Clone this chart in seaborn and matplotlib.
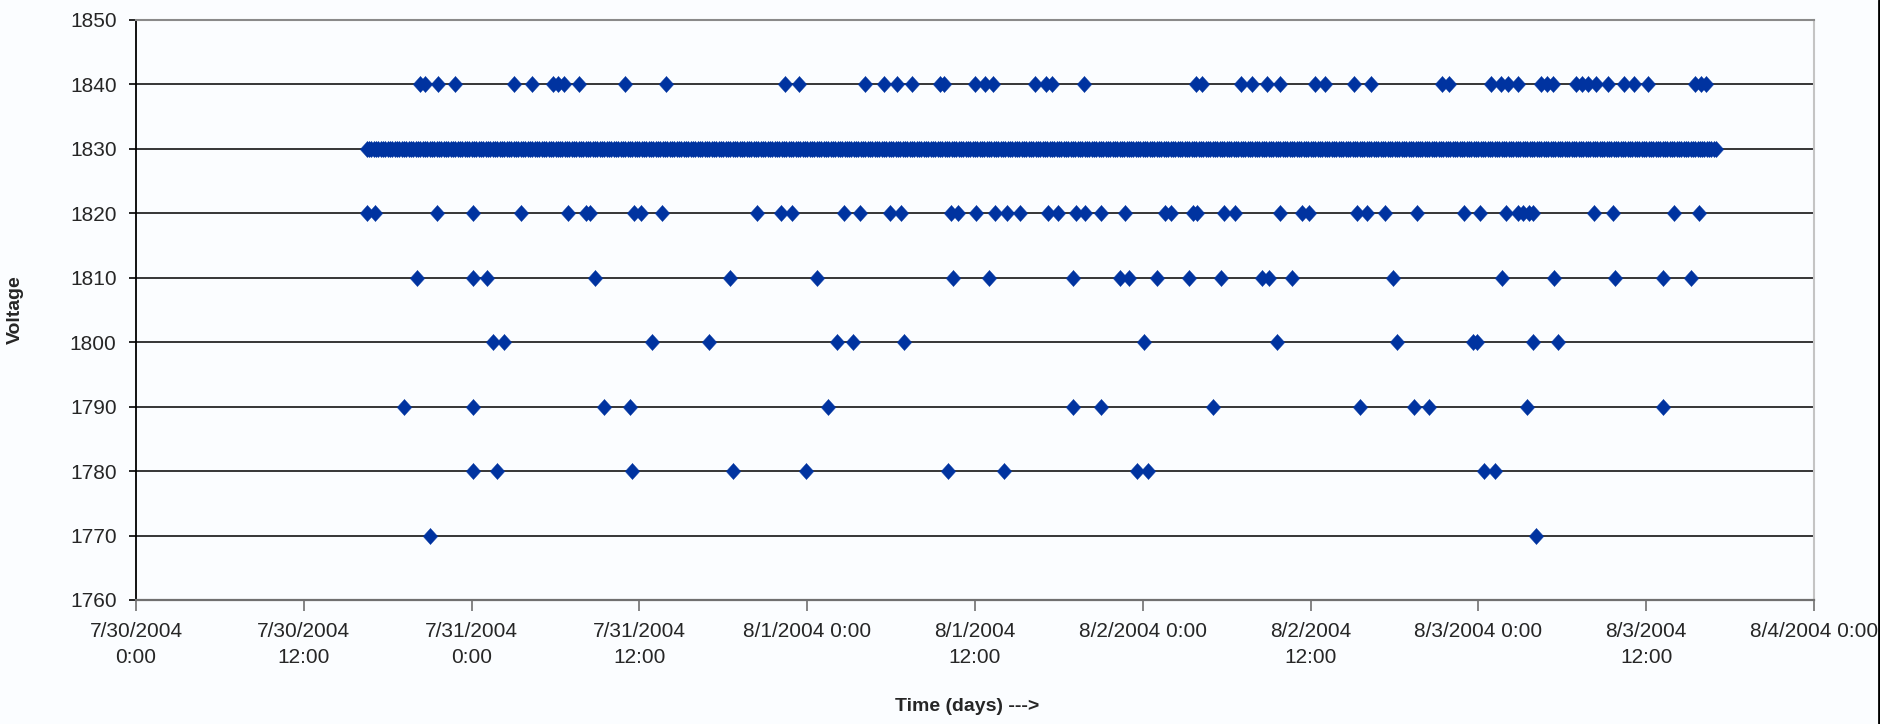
import matplotlib
matplotlib.use("Agg")
import matplotlib.pyplot as plt
from matplotlib.lines import Line2D
import seaborn as sns
import numpy as np
import pandas as pd

# readings that are not 1830 V, hours after 7/30/2004 0:00
h1840 = [20.3, 20.7, 21.6, 22.8, 27.0, 28.3, 29.8, 30.2, 30.6, 31.7, 35.0, 37.9,
         46.4, 47.4, 52.1, 53.5, 54.4, 55.5, 57.5, 57.8, 60.0, 60.7, 61.3, 64.3,
         65.1, 65.5, 67.8, 75.8, 76.2, 79.0, 79.8, 80.9, 81.8, 84.3, 85.0, 87.1,
         88.3, 93.4, 93.9, 96.9, 97.6, 98.1, 98.8, 100.5, 100.9, 101.3, 103.0,
         103.4, 103.8, 104.4, 105.3, 106.4, 107.1, 108.1, 111.5, 111.9, 112.3]
h1820 = [16.5, 17.1, 21.5, 24.1, 27.5, 30.9, 32.2, 32.5, 35.6, 36.1, 37.6,
         44.4, 46.1, 46.9, 50.6, 51.8, 53.9, 54.7, 58.3, 58.8, 60.1, 61.4, 62.3,
         63.2, 65.2, 65.9, 67.2, 67.9, 69.0, 70.7, 73.6, 74.0, 75.6, 75.9, 77.8,
         78.6, 81.8, 83.4, 83.9, 87.3, 88.0, 89.3, 91.6, 95.0, 96.1, 98.0, 98.8,
         99.2, 99.6, 99.9, 104.3, 105.6, 110.0, 111.8]
h1810 = [20.1, 24.1, 25.1, 32.8, 42.5, 48.7, 58.4, 61.0, 67.0, 70.4, 71.0, 73.0,
         75.3, 77.6, 80.5, 81.0, 82.7, 89.9, 97.7, 101.4, 105.8, 109.2, 111.2]
h1800 = [25.5, 26.3, 36.9, 41.0, 50.1, 51.3, 54.9, 72.1, 81.6, 90.2, 95.6, 95.9,
         99.9, 101.7]
h1790 = [19.2, 24.1, 33.5, 35.3, 49.5, 67.0, 69.0, 77.0, 87.5, 91.4, 92.5, 99.5,
         109.2]
h1780 = [24.1, 25.8, 35.5, 42.7, 47.9, 58.1, 62.1, 71.6, 72.4, 96.4, 97.2]
h1770 = [21.0, 100.1]

# logger runs every 10 minutes, nominal reading 1830 V
log_start = "2004-07-30 16:30"
log_end = "2004-08-03 17:00"
log_step = "10min"

t0 = pd.Timestamp("2004-07-30 00:00")
tick_labels = ["7/30/2004\n0:00", "7/30/2004\n12:00", "7/31/2004\n0:00",
               "7/31/2004\n12:00", "8/1/2004 0:00", "8/1/2004\n12:00",
               "8/2/2004 0:00", "8/2/2004\n12:00", "8/3/2004 0:00",
               "8/3/2004\n12:00", "8/4/2004 0:00"]

base = pd.DataFrame({"time": pd.date_range(log_start, log_end, freq=log_step),
                     "voltage": 1830})
parts = [base]
for v, hrs in [(1840, h1840), (1820, h1820), (1810, h1810), (1800, h1800),
               (1790, h1790), (1780, h1780), (1770, h1770)]:
    parts.append(pd.DataFrame({"time": t0 + pd.to_timedelta(hrs, unit="h"),
                               "voltage": v}))
df = pd.concat(parts, ignore_index=True)

sns.set_style("white")
plt.rcParams["font.family"] = ["Liberation Sans", "DejaVu Sans"]
bg = "#fbfdff"

fig = plt.figure(figsize=(18.81, 7.24), dpi=100, facecolor=bg)
ax = fig.add_axes([0.0723, 0.1713, 0.8921, 0.8011])
ax.set_facecolor(bg)

# excel style diamond, a little taller than wide
diamond = [(0, 1), (0.9, 0), (0, -1), (-0.9, 0), (0, 1)]
sns.scatterplot(data=df, x="time", y="voltage", marker=diamond, s=135,
                color="#0033a0", edgecolor="#0033a0", linewidth=0.3, ax=ax,
                zorder=3, legend=False)

ax.set_xlim(t0, t0 + pd.Timedelta(days=5))
ax.set_ylim(1760, 1850)
ax.set_yticks(np.arange(1760, 1851, 10))
ax.set_xticks([t0 + pd.Timedelta(hours=12 * k) for k in range(11)])
ax.set_xticklabels(tick_labels, linespacing=1.45)

ax.yaxis.grid(True, color="#262626", lw=1.3)
ax.xaxis.grid(False)
ax.set_axisbelow(True)

ax.spines["left"].set_color("black")
ax.spines["left"].set_linewidth(1.3)
ax.spines["bottom"].set_color("#707070")
ax.spines["bottom"].set_linewidth(1.6)
ax.spines["top"].set_color("#8a8a8a")
ax.spines["top"].set_linewidth(1.5)
ax.spines["right"].set_color("#c4c4c4")
ax.spines["right"].set_linewidth(1.5)

ax.tick_params(axis="y", which="major", direction="out", length=5, width=1.2,
               color="black", pad=9, labelsize=15, left=True)
ax.tick_params(axis="x", which="major", direction="out", length=8, width=1.2,
               color="#707070", pad=8, labelsize=15, bottom=True)

ax.set_ylabel("Voltage", fontsize=14, fontweight="bold")
ax.set_xlabel("Time (days) --->", fontsize=14, fontweight="bold")
ax.yaxis.set_label_coords(-0.067, 0.5)
ax.xaxis.label.set_va("center")
ax.xaxis.set_label_coords(0.495, -0.184)

fig.add_artist(Line2D([0.9992, 0.9992], [0, 1], transform=fig.transFigure,
                      color="black", lw=2))

fig.savefig("out.png", dpi=100, facecolor=bg)
